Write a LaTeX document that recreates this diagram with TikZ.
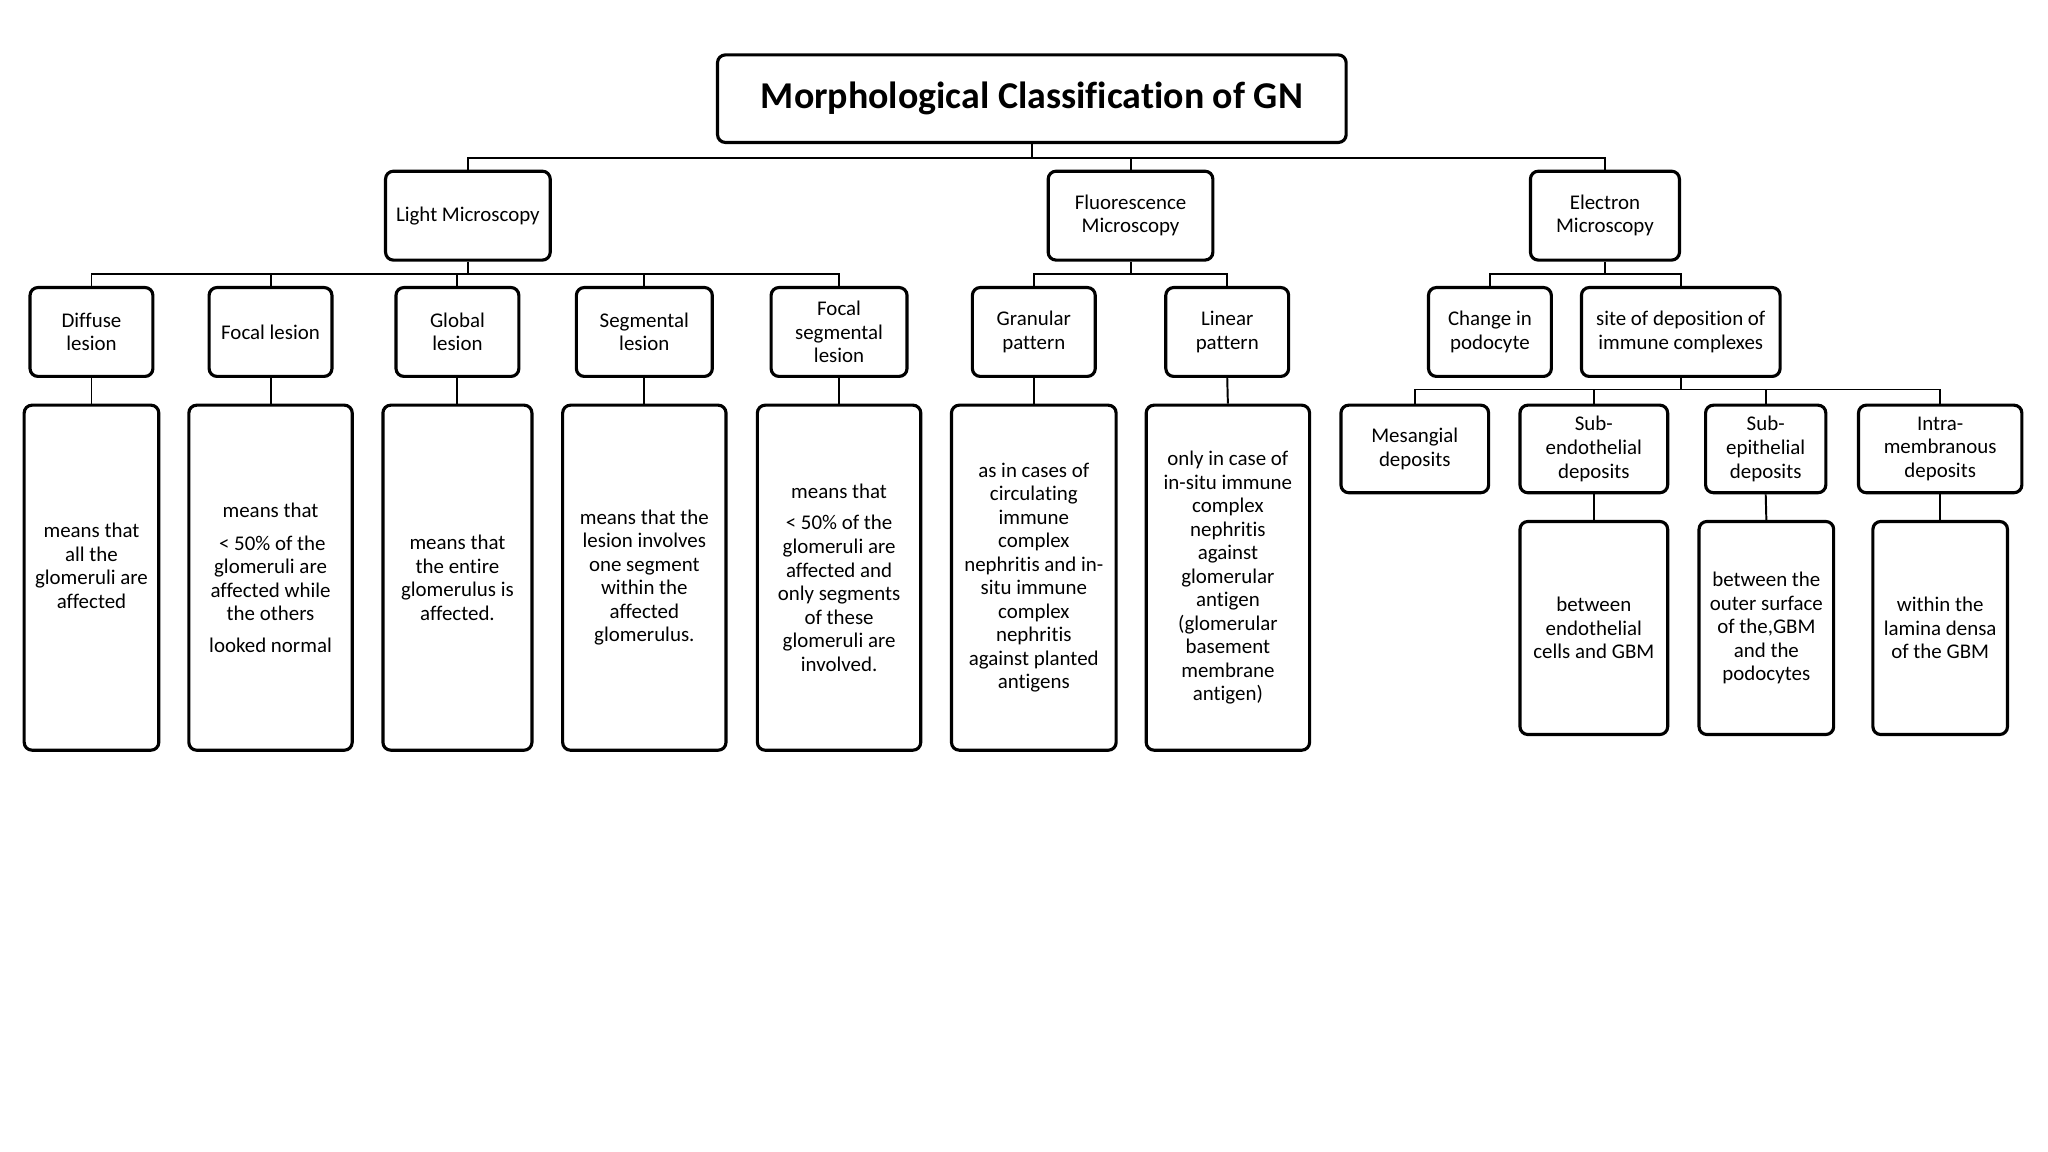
\documentclass[tikz,border=0pt]{standalone}
\usepackage{fontspec}
\setmainfont{Carlito}[Ligatures=NoCommon]
\begin{document}
\begin{tikzpicture}[x=1pt,y=-1pt,
  box/.style={draw, line width=2.4pt, rounded corners=6pt, align=center, inner sep=0pt,
    font=\fontsize{16}{18}\selectfont},
  conn/.style={line width=1.5pt}]
\useasboundingbox (0,0) rectangle (1567,881.4);
\fill[white] (0,0) rectangle (1567,881.4);

% title
\node[box, minimum width=481pt, minimum height=67pt, font=\fontsize{29}{34}\selectfont\bfseries] (title) at (789.5,75.5) {Morphological Classification of GN};

% level 1
\node[box, minimum width=126pt, minimum height=68pt] (lm) at (358,165) {Light Microscopy};
\node[box, minimum width=126pt, minimum height=68pt] (fm) at (865,165) {Fluorescence\\Microscopy};
\node[box, minimum width=114pt, minimum height=68pt] (em) at (1228,165) {Electron\\Microscopy};

% level 2
\node[box, minimum width=94pt, minimum height=68pt] (dl) at (70,254) {Diffuse\\lesion};
\node[box, minimum width=94pt, minimum height=68pt] (fl) at (207,254) {Focal lesion};
\node[box, minimum width=94pt, minimum height=68pt] (gl) at (350,254) {Global\\lesion};
\node[box, minimum width=104pt, minimum height=68pt] (sl) at (493,254) {Segmental\\lesion};
\node[box, minimum width=104pt, minimum height=68pt] (fsl) at (642,254) {Focal\\segmental\\lesion};
\node[box, minimum width=94pt, minimum height=68pt] (gp) at (791,254) {Granular\\pattern};
\node[box, minimum width=94pt, minimum height=68pt] (lp) at (939,254) {Linear\\pattern};
\node[box, minimum width=94pt, minimum height=68pt] (cp) at (1140,254) {Change in\\podocyte};
\node[box, minimum width=152pt, minimum height=68pt] (sd) at (1286,254) {site of deposition of\\immune complexes};

% level 3 descriptions
\node[box, minimum width=103pt, minimum height=264pt] (d1) at (70,442) {means that\\all the\\glomeruli are\\affected\\\mbox{}};
\node[box, minimum width=125pt, minimum height=264pt] (d2) at (207,442) {means that\\[7pt]\,< 50\% of the\\glomeruli are\\affected while\\the others\\[6pt]looked normal};
\node[box, minimum width=114pt, minimum height=264pt] (d3) at (350,442) {means that\\the entire\\glomerulus is\\affected.};
\node[box, minimum width=125pt, minimum height=264pt] (d4) at (493,442) {means that the\\lesion involves\\one segment\\within the\\affected\\glomerulus.};
\node[box, minimum width=125pt, minimum height=264pt] (d5) at (642,442) {means that\\[6pt]< 50\% of the\\glomeruli are\\affected and\\only segments\\of these\\glomeruli are\\involved.};
\node[box, minimum width=126pt, minimum height=264pt] (d6) at (791,442) {as in cases of\\circulating\\immune\\complex\\nephritis and in-\\situ immune\\complex\\nephritis\\against planted\\antigens};
\node[box, minimum width=125pt, minimum height=264pt] (d7) at (939.5,442) {only in case of\\in-situ immune\\complex\\nephritis\\against\\glomerular\\antigen\\(glomerular\\basement\\membrane\\antigen)};

% deposits
\node[box, minimum width=113pt, minimum height=67pt] (md) at (1082.5,343.5) {Mesangial\\deposits};
\node[box, minimum width=113pt, minimum height=67pt] (se) at (1219.5,343.5) {Sub-\\endothelial\\deposits};
\node[box, minimum width=92pt, minimum height=67pt] (sp) at (1351,343.5) {Sub-\\epithelial\\deposits};
\node[box, minimum width=125pt, minimum height=67pt] (im) at (1484.5,343.5) {Intra-\\membranous\\deposits};

\node[box, minimum width=113pt, minimum height=163pt] (sed) at (1219.5,480.5) {between\\endothelial\\cells and GBM};
\node[box, minimum width=103pt, minimum height=163pt] (spd) at (1351.5,480.5) {between the\\outer surface\\of the,GBM\\and the\\podocytes};
\node[box, minimum width=103pt, minimum height=163pt] (imd) at (1484.5,480.5) {within the\\lamina densa\\of the GBM};

% bus coordinates
\coordinate (b1) at (0,121);
\coordinate (b2) at (0,210);
\coordinate (b3) at (0,298);

% connectors
\draw[conn] (title.south) -- (title.south |- b1);
\draw[conn] (lm.north) |- (em.north |- b1) -- (em.north);
\draw[conn] (fm.north) -- (fm.north |- b1);

\draw[conn] (lm.south) -- (lm.south |- b2);
\draw[conn] (dl.north) |- (fsl.north |- b2) -- (fsl.north);
\draw[conn] (fl.north) -- (fl.north |- b2);
\draw[conn] (gl.north) -- (gl.north |- b2);
\draw[conn] (sl.north) -- (sl.north |- b2);

\draw[conn] (fm.south) -- (fm.south |- b2);
\draw[conn] (gp.north) |- (lp.north |- b2) -- (lp.north);

\draw[conn] (em.south) -- (em.south |- b2);
\draw[conn] (cp.north) |- (sd.north |- b2) -- (sd.north);

\draw[conn] (dl.south) -- (d1.north);
\draw[conn] (fl.south) -- (d2.north);
\draw[conn] (gl.south) -- (d3.north);
\draw[conn] (sl.south) -- (d4.north);
\draw[conn] (fsl.south) -- (d5.north);
\draw[conn] (gp.south) -- (d6.north);
\draw[conn] (lp.south) -- (d7.north);

\draw[conn] (sd.south) -- (sd.south |- b3);
\draw[conn] (md.north) |- (im.north |- b3) -- (im.north);
\draw[conn] (se.north) -- (se.north |- b3);
\draw[conn] (sp.north) -- (sp.north |- b3);

\draw[conn] (se.south) -- (sed.north);
\draw[conn] (sp.south) -- (spd.north);
\draw[conn] (im.south) -- (imd.north);
\end{tikzpicture}
\end{document}
